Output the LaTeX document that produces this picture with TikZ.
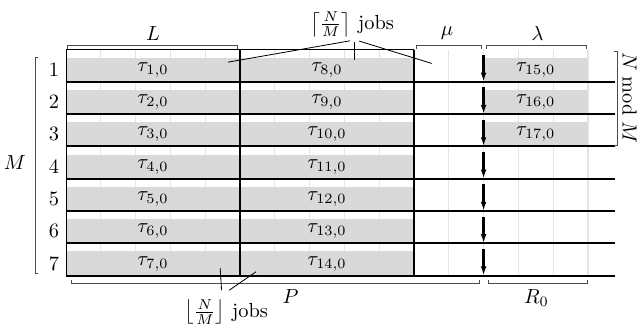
\documentclass[tikz,border=0pt]{standalone}
\usepackage{amsmath,amssymb,mathtools}
\usepackage{xcolor}
\usepackage{tikz}
\usetikzlibrary{arrows.meta,positioning,calc}

\begin{document}
\begin{tikzpicture}[
    x=0.6cm,y=-0.557cm,
    jobbox/.style={fill=gray!30,draw=none},
    jobname/.style={inner sep=1pt},
    slotline/.style={draw=gray!20,line width=0.6pt},
    coreline/.style={line width=1pt},
    blockline/.style={line width=0.5pt},
    bracket/.style={draw=black!70,line width=0.5pt},
    leader/.style={line width=0.4pt},
    >={Latex[length=4.5pt,width=2.8pt]}]
    \useasboundingbox (-1.897,-1.533) rectangle (16.466,8.777);
    % time slots
    \foreach \k in {1,...,15} {
      \draw[slotline] (\k,0) -- (\k,7);
    }
    \foreach \r/\a/\b in {1/1/8,2/2/9,3/3/10,4/4/11,5/5/12,6/6/13,7/7/14} {
      \fill[jobbox] (0,\r-0.75) rectangle (10,\r);
      \node[jobname] (t\a) at (2.5,\r-0.375) {$\tau_{\a,0}$};
      \node[jobname] (t\b) at (7.5,\r-0.375) {$\tau_{\b,0}$};
      \node (core\r) at (-0.345,\r-0.375) {\r};
    }
    \foreach \r/\c in {1/15,2/16,3/17} {
      \fill[jobbox] (12,\r-0.75) rectangle (15,\r);
      \node[jobname] (t\c) at (13.5,\r-0.375) {$\tau_{\c,0}$};
    }
    \draw[blockline] (0,7) -- (0,0) -- (10,0);
    \draw[blockline] (5,0) -- (5,7);
    \draw[blockline] (10,0) -- (10,7);
    \foreach \r in {1,...,7} {
      \draw[coreline] (0,\r) -- (15.78,\r);
      \draw[->,line width=1.1pt] (12,\r-0.83) -- (12,\r);
    }
    % lengths
    \draw[bracket] (0.05,-0.02) -- (0.05,-0.12) -- (4.94,-0.12) -- (4.94,-0.02);
    \node (lenL) at (2.5,-0.51) {$L$};
    \draw[bracket] (10.08,-0.02) -- (10.08,-0.12) -- (11.95,-0.12) -- (11.95,-0.02);
    \node (lenmu) at (10.95,-0.51) {$\mu$};
    \draw[bracket] (12.09,-0.02) -- (12.09,-0.12) -- (14.96,-0.12) -- (14.96,-0.02);
    \node (lenlambda) at (13.55,-0.51) {$\lambda$};
    \draw[bracket] (0.16,7.14) -- (0.16,7.24) -- (11.87,7.24) -- (11.87,7.14);
    \node (lenP) at (6.45,7.65) {$P$};
    \draw[bracket] (12.13,7.14) -- (12.13,7.24) -- (15.0,7.24) -- (15.0,7.14);
    \node (lenR) at (13.52,7.69) {$R_0$};
    \draw[bracket] (-0.8,0.26) -- (-0.89,0.26) -- (-0.89,6.92) -- (-0.8,6.92);
    \node (cores) at (-1.47,3.5) {$M$};
    \draw[bracket] (15.76,0.07) -- (15.85,0.07) -- (15.85,2.96) -- (15.76,2.96);
    \node[rotate=-90,inner sep=1pt] (rest) at (16.2,1.5) {$N \bmod M$};
    % job counts
    \node[inner sep=1pt] (ceiljobs) at (8.22,-0.78) {$\left\lceil\frac{N}{M}\right\rceil$ jobs};
    \coordinate (c1) at (8.16,-0.27);
    \coordinate (c2) at (8.3,-0.23);
    \coordinate (c3) at (8.43,-0.26);
    \coordinate (in1) at (4.66,0.39);
    \coordinate (in2) at (8.3,0.33);
    \coordinate (in3) at (10.51,0.43);
    \draw[leader] (c1) -- (in1);
    \draw[leader] (c2) -- (in2);
    \draw[leader] (c3) -- (in3);
    \node (floorjobs) at (4.6,8.13) {$\left\lfloor\frac{N}{M}\right\rfloor$ jobs};
    \coordinate (f1) at (4.47,7.45);
    \coordinate (f2) at (4.69,7.45);
    \coordinate (out1) at (4.43,6.77);
    \coordinate (out2) at (5.46,6.88);
    \draw[leader] (f1) -- (out1);
    \draw[leader] (f2) -- (out2);
\end{tikzpicture}
\end{document}
